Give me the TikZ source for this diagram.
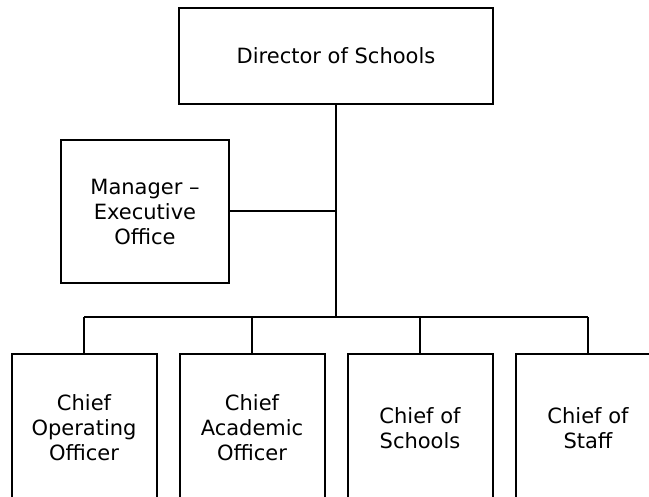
\documentclass[tikz,border=0pt]{standalone}
\usepackage{fontspec}
\setmainfont{DejaVu Sans}
\tikzset{
  orgbox/.style={draw, line width=2pt, align=center, inner sep=0pt,
    font=\fontsize{21}{25}\selectfont},
  orgline/.style={line width=2pt}
}
\begin{document}
\begin{tikzpicture}[x=1pt,y=-1pt]
  \clip (0,0) rectangle (649,497);
  % top of the chart
  \node[orgbox, minimum width=314pt, minimum height=96pt] (director) at (336,56) {Director of Schools};
  \node[orgbox, minimum width=168pt, minimum height=143pt] (manager) at (145,211.5) {Manager --\\Executive\\Office};
  \coordinate (bus) at (336,317);
  % the four chiefs
  \foreach \x/\n/\t in {84/coo/{Chief\\Operating\\Officer}, 252/cao/{Chief\\Academic\\Officer},
      420/cos/{Chief of\\Schools}, 588/staff/{Chief of\\Staff}}{
    \node[orgbox, minimum width=145pt, minimum height=148pt] (\n) at (\x,428) {\t};
    \draw[orgline] (\n.north) -- (\n.north |- bus);
  }
  \draw[orgline] (director.south) -- (bus);
  \draw[orgline] (manager.east) -- (manager.east -| bus);
  \draw[orgline] (coo.north |- bus) -- (staff.north |- bus);
\end{tikzpicture}
\end{document}
